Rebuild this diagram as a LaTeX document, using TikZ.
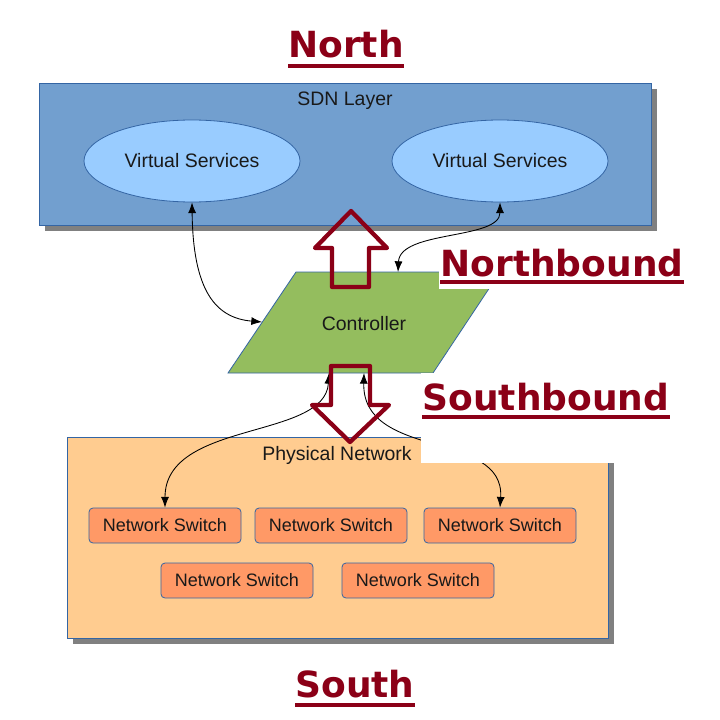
\documentclass[tikz,border=0pt]{standalone}
\usepackage{fontspec}
\setmainfont{Liberation Sans}
\newfontfamily\lblfont{DejaVu Sans}
\usetikzlibrary{arrows.meta,shadows,shapes.geometric}
\definecolor{sdnfill}{HTML}{729FCF}
\definecolor{edge}{HTML}{3465A4}
\definecolor{vsfill}{HTML}{99CCFF}
\definecolor{ctrlfill}{HTML}{94BD5E}
\definecolor{physfill}{HTML}{FFCC90}
\definecolor{swfill}{HTML}{FF9966}
\definecolor{maroon}{HTML}{8B0017}
\definecolor{shadowgray}{HTML}{808080}
\begin{document}
\begin{tikzpicture}[x=0.75pt,y=-0.75pt,
  box/.style={draw=edge, line width=0.6pt, inner sep=0pt},
  shad/.style={drop shadow={shadow xshift=4.5pt,shadow yshift=-4.5pt,fill=shadowgray,opacity=1}},
  txt/.style={font=\fontsize{14.6}{17}\selectfont, text=black!90, inner sep=0pt},
  sw/.style={box, fill=swfill, rounded corners=3pt, minimum width=114pt, minimum height=26.25pt, font=\fontsize{13.5}{16}\selectfont, text=black!90},
  vs/.style={box, ellipse, fill=vsfill, minimum width=162pt, minimum height=61.5pt, font=\fontsize{14.6}{17}\selectfont, text=black!90},
  conn/.style={{Latex[length=8pt,width=6pt]}-{Latex[length=8pt,width=6pt]}, line width=0.65pt},
  fat/.style={draw=maroon, line width=3.2pt, line join=round},
  lbl/.style={text=maroon, font=\lblfont\bfseries\fontsize{27}{32}\selectfont, inner sep=0pt, anchor=base},
  uline/.style={draw=maroon, line width=3pt},
  cover/.style={fill=white, draw=none, inner sep=0pt}
]
\useasboundingbox[fill=white] (0,0) rectangle (720,720);

% SDN layer
\node[box, fill=sdnfill, shad, minimum width=459pt, minimum height=106.5pt] (sdn) at (345,154) {};
\node[txt] (sdnt) at (345,101) {SDN Layer};
\node[vs] (vs1) at (192,161) {Virtual Services};
\node[vs] (vs2) at (500,161) {Virtual Services};

% Physical network
\node[box, fill=physfill, shad, minimum width=405.75pt, minimum height=150.75pt] (phys) at (337.5,537.5) {};
\node[txt] (physt) at (337,455) {Physical Network};
\node[sw] (s1) at (165,525.5) {Network Switch};
\node[sw] (s2) at (331,525.5) {Network Switch};
\node[sw] (s3) at (500,525.5) {Network Switch};
\node[sw] (s4) at (237,580.5) {Network Switch};
\node[sw] (s5) at (418,580.5) {Network Switch};

% Controller
\coordinate (c1) at (228,373);
\coordinate (c2) at (433,373);
\coordinate (c3) at (500,272);
\coordinate (c4) at (296,272);
\draw[draw=edge, line width=0.6pt, fill=ctrlfill] (c1) -- (c2) -- (c3) -- (c4) -- cycle;
\node[txt] (ctrl) at (364,324) {Controller};

% connector ends on the controller
\coordinate (cl) at (262,322);
\coordinate (ct) at (398,272);
\coordinate (cb1) at (329,373);
\coordinate (cb2) at (364,373);

\draw[conn] (vs1.south) .. controls (193,290) and (215,318) .. (cl);
\draw[conn] (vs2.south) .. controls (500,240) and (400,230) .. (ct);
\draw[conn] (cb1) .. controls (325,440) and (165,420) .. (s1.north);
\draw[conn] (cb2) .. controls (362,460) and (505,430) .. (s3.north);

% label covers
\node[cover, minimum width=186.75pt, minimum height=36.75pt] (nbcover) at (563.5,264.5) {};
\node[cover, minimum width=188.25pt, minimum height=67.5pt] (sbcover) at (546.5,418) {};

% labels
\node[lbl] (north) at (346,58) {North};
\draw[uline] ([yshift=-6pt]north.base west) -- ([yshift=-6pt]north.base east);
\node[lbl] (nb) at (562,276) {Northbound};
\draw[uline] ([yshift=-4.5pt]nb.base west) -- ([yshift=-4.5pt]nb.base east);
\node[lbl] (sb) at (546,410) {Southbound};
\draw[uline] ([yshift=-5.25pt]sb.base west) -- ([yshift=-5.25pt]sb.base east);
\node[lbl] (south) at (355,697) {South};
\draw[uline] ([yshift=-6pt]south.base west) -- ([yshift=-6pt]south.base east);

% fat arrows
\draw[fat] (332,287) -- (332,248) -- (315,248) -- (351,211) -- (387,248) -- (369,248) -- (369,287) -- cycle;
\draw[fat] (331,366) -- (370,366) -- (370,405) -- (389,405) -- (350,442) -- (312,405) -- (331,405) -- cycle;
\end{tikzpicture}
\end{document}
